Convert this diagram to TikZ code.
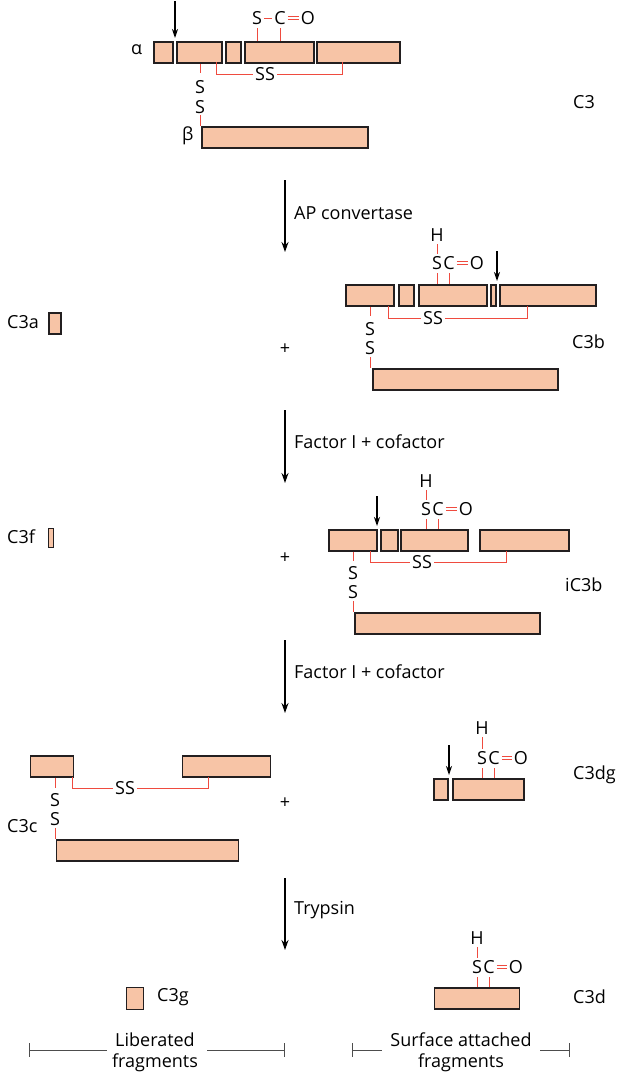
\documentclass[tikz,border=0pt]{standalone}
\usepackage{fontspec}
\setmainfont{Open Sans}
\usetikzlibrary{arrows.meta}
\definecolor{segfill}{HTML}{F7C4A6}
\definecolor{segdraw}{HTML}{231F20}
\definecolor{bond}{HTML}{EF4B3F}
\definecolor{brk}{HTML}{4D4D4D}
\begin{document}
\begin{tikzpicture}[x=1pt,y=-1pt,
  font=\fontsize{18}{21}\selectfont,
  seg/.style={draw=segdraw, fill=segfill, line width=1.6pt, minimum height=21pt, inner sep=0pt, anchor=north west},
  txt/.style={inner sep=0pt, text height=12.5pt, text depth=0pt},
  lbl/.style={inner sep=0pt, anchor=west},
  rl/.style={draw=bond, line width=1pt},
  cut/.style={-{Stealth[length=9pt,width=6pt]}, line width=1.2pt},
  main/.style={-{Stealth[length=10pt,width=7pt]}, line width=1.3pt},
  gbr/.style={draw=brk, line width=1pt}]
\useasboundingbox (0,0) rectangle (623,1072);

% ================= C3 =================
\node[seg, minimum width=19] (a1) at (153,41) {};
\node[seg, minimum width=45] (a2) at (176,41) {};
\node[seg, minimum width=15] (a3) at (225,41) {};
\node[seg, minimum width=69] (a4) at (244,41) {};
\node[seg, minimum width=83] (a5) at (316,41) {};
\node[seg, minimum width=166] (ab) at (201,126) {};
\node[lbl] (alpha) at (131,50) {α};
\node[lbl] (beta) at (182,136) {β};
\node[lbl] (c3) at (573,102) {C3};
\coordinate (ka) at (175,1);
\coordinate (kae) at (175,38);
\draw[cut] (ka) -- (kae);
\node[txt] (sA) at (257,18) {S};
\node[txt] (cA) at (280,18) {C};
\node[txt] (oA) at (308,18) {O};
\draw[rl] ([xshift=2]sA.east) -- ([xshift=-2]cA.west);
\draw[rl] ([xshift=2,yshift=1.8]cA.east) -- ([xshift=-2,yshift=1.8]oA.west);
\draw[rl] ([xshift=2,yshift=-1.8]cA.east) -- ([xshift=-2,yshift=-1.8]oA.west);
\draw[rl] ([yshift=-4]sA.south) -- (sA.south |- a4.north);
\draw[rl] ([yshift=-4]cA.south) -- (cA.south |- a4.north);
\node[txt] (ssA) at (265,74) {SS};
\draw[rl] (216,62) |- ([xshift=-2]ssA.west);
\draw[rl] ([xshift=2]ssA.east) -| (342,62);
\node[txt] (sA1) at (200,87) {S};
\node[txt] (sA2) at (200,107) {S};
\draw[rl] (sA1.north |- a2.south) -- (200,73);
\draw[rl] (200,115) -- (sA2.south |- ab.north);

\coordinate (m1s) at (285,180);
\coordinate (m1e) at (285,252);
\draw[main] (m1s) -- (m1e);
\node[lbl] (l1) at (294,213) {AP convertase};

% ================= C3b =================
\node[seg, minimum width=48] (c1) at (345,284) {};
\node[seg, minimum width=15] (c2) at (398,284) {};
\node[seg, minimum width=68] (c3s) at (418,284) {};
\node[seg, minimum width=5] (c4) at (490,284) {};
\node[seg, minimum width=96] (c5) at (499,284) {};
\node[seg, minimum width=185] (cb) at (372,368) {};
\coordinate (kb) at (497,251);
\coordinate (kbe) at (497,281);
\draw[cut] (kb) -- (kbe);
\node[txt] (hB) at (437,235) {H};
\node[txt] (sB) at (437,263) {S};
\node[txt] (cB) at (449,263) {C};
\node[txt] (oB) at (477,263) {O};
\draw[rl] ([yshift=-3]hB.south) -- ([yshift=3]sB.north);
\draw[rl] ([xshift=2,yshift=1.8]cB.east) -- ([xshift=-2,yshift=1.8]oB.west);
\draw[rl] ([xshift=2,yshift=-1.8]cB.east) -- ([xshift=-2,yshift=-1.8]oB.west);
\draw[rl] ([yshift=-4]sB.south) -- (sB.south |- c3s.north);
\draw[rl] ([yshift=-4]cB.south) -- (cB.south |- c3s.north);
\node[txt] (ssB) at (433,318) {SS};
\draw[rl] (388,306) |- ([xshift=-2]ssB.west);
\draw[rl] ([xshift=2]ssB.east) -| (527,306);
\node[txt] (sB1) at (370,329) {S};
\node[txt] (sB2) at (370,348) {S};
\draw[rl] (sB1.north |- c1.south) -- (370,316);
\draw[rl] (370,357) -- (sB2.south |- cb.north);
\node[lbl] (c3b) at (572,342) {C3b};
\node[txt] (p1) at (285,348) {+};
\node[lbl] (c3a) at (7,322) {C3a};
\node[seg, minimum width=12, minimum height=21] (c3abox) at (48,312) {};

\coordinate (m2s) at (285,410);
\coordinate (m2e) at (285,483);
\draw[main] (m2s) -- (m2e);
\node[lbl] (l2) at (294,442) {Factor I + cofactor};

% ================= iC3b =================
\node[seg, minimum width=48] (d1) at (328,529) {};
\node[seg, minimum width=17] (d2) at (380,529) {};
\node[seg, minimum width=67] (d3) at (400,529) {};
\node[seg, minimum width=89] (d4) at (479,529) {};
\node[seg, minimum width=185] (db) at (354,612) {};
\coordinate (kc) at (377,496);
\coordinate (kce) at (377,526);
\draw[cut] (kc) -- (kce);
\node[txt] (hC) at (426,481) {H};
\node[txt] (sC) at (426,509) {S};
\node[txt] (cC) at (438,509) {C};
\node[txt] (oC) at (466,509) {O};
\draw[rl] ([yshift=-3]hC.south) -- ([yshift=3]sC.north);
\draw[rl] ([xshift=2,yshift=1.8]cC.east) -- ([xshift=-2,yshift=1.8]oC.west);
\draw[rl] ([xshift=2,yshift=-1.8]cC.east) -- ([xshift=-2,yshift=-1.8]oC.west);
\draw[rl] ([yshift=-4]sC.south) -- (sC.south |- d3.north);
\draw[rl] ([yshift=-4]cC.south) -- (cC.south |- d3.north);
\node[txt] (ssC) at (422,562) {SS};
\draw[rl] (370,551) |- ([xshift=-2]ssC.west);
\draw[rl] ([xshift=2]ssC.east) -| (506,551);
\node[txt] (sC1) at (353,573) {S};
\node[txt] (sC2) at (353,592) {S};
\draw[rl] (sC1.north |- d1.south) -- (353,561);
\draw[rl] (353,601) -- (sC2.south |- db.north);
\node[lbl] (ic3b) at (565,585) {iC3b};
\node[txt] (p2) at (285,557) {+};
\node[lbl] (c3f) at (7,537) {C3f};
\node[seg, minimum width=5, minimum height=19] (c3fbox) at (47.5,527.5) {};

\coordinate (m3s) at (285,640);
\coordinate (m3e) at (285,713);
\draw[main] (m3s) -- (m3e);
\node[lbl] (l3) at (294,672) {Factor I + cofactor};

% ================= C3c =================
\node[seg, minimum width=43] (e1) at (29.5,755) {};
\node[seg, minimum width=88] (e2) at (181.5,755) {};
\node[seg, minimum width=182] (eb) at (55.5,839) {};
\node[txt] (ssE) at (125,788) {SS};
\draw[rl] (72,777) |- ([xshift=-2]ssE.west);
\draw[rl] ([xshift=2]ssE.east) -| (208,777);
\node[txt] (sE1) at (55,800) {S};
\node[txt] (sE2) at (55,819) {S};
\draw[rl] (sE1.north |- e1.south) -- (55,788);
\draw[rl] (55,828) -- (sE2.south |- eb.north);
\node[lbl] (c3c) at (7,826) {C3c};
\node[txt] (p3) at (285,802) {+};

% ================= C3dg =================
\node[seg, minimum width=14] (f1) at (433,778) {};
\node[seg, minimum width=71] (f2) at (452,778) {};
\coordinate (kd) at (449,745);
\coordinate (kde) at (449,775);
\draw[cut] (kd) -- (kde);
\node[txt] (hD) at (482,728) {H};
\node[txt] (sD) at (482,758) {S};
\node[txt] (cD) at (494,758) {C};
\node[txt] (oD) at (521,758) {O};
\draw[rl] ([yshift=-3]hD.south) -- ([yshift=3]sD.north);
\draw[rl] ([xshift=2,yshift=1.8]cD.east) -- ([xshift=-2,yshift=1.8]oD.west);
\draw[rl] ([xshift=2,yshift=-1.8]cD.east) -- ([xshift=-2,yshift=-1.8]oD.west);
\draw[rl] ([yshift=-4]sD.south) -- (sD.south |- f2.north);
\draw[rl] ([yshift=-4]cD.south) -- (cD.south |- f2.north);
\node[lbl] (c3dg) at (573,775) {C3dg};

\coordinate (m4s) at (285,878);
\coordinate (m4e) at (285,950);
\draw[main] (m4s) -- (m4e);
\node[lbl] (l4) at (294,910) {Trypsin};

% ================= C3d / C3g =================
\node[seg, minimum width=85] (g1) at (433.5,987) {};
\node[txt] (hE) at (477,938) {H};
\node[txt] (sF) at (477,967) {S};
\node[txt] (cF) at (489,967) {C};
\node[txt] (oF) at (516,967) {O};
\draw[rl] ([yshift=-3]hE.south) -- ([yshift=3]sF.north);
\draw[rl] ([xshift=2,yshift=1.8]cF.east) -- ([xshift=-2,yshift=1.8]oF.west);
\draw[rl] ([xshift=2,yshift=-1.8]cF.east) -- ([xshift=-2,yshift=-1.8]oF.west);
\draw[rl] ([yshift=-4]sF.south) -- (sF.south |- g1.north);
\draw[rl] ([yshift=-4]cF.south) -- (cF.south |- g1.north);
\node[lbl] (c3d) at (573,997) {C3d};
\node[seg, minimum width=17, minimum height=22] (c3gbox) at (125.5,986.5) {};
\node[lbl] (c3g) at (157,997) {C3g};

% ================= bottom brackets =================
\node[align=center, inner sep=0pt] (lib) at (155,1052) {Liberated\\fragments};
\node[align=center, inner sep=0pt] (sur) at (461,1052) {Surface attached\\fragments};
\coordinate (lbL) at (29,1050);
\coordinate (lbR) at (284,1050);
\coordinate (sbL) at (352,1050);
\coordinate (sbR) at (569,1050);
\draw[gbr] (lbL) -- (107,1050);
\draw[gbr] (207,1050) -- (lbR);
\draw[gbr] ([yshift=7]lbL) -- ([yshift=-7]lbL);
\draw[gbr] ([yshift=7]lbR) -- ([yshift=-7]lbR);
\draw[gbr] (sbL) -- (382,1050);
\draw[gbr] (540,1050) -- (sbR);
\draw[gbr] ([yshift=7]sbL) -- ([yshift=-7]sbL);
\draw[gbr] ([yshift=7]sbR) -- ([yshift=-7]sbR);
\end{tikzpicture}
\end{document}
